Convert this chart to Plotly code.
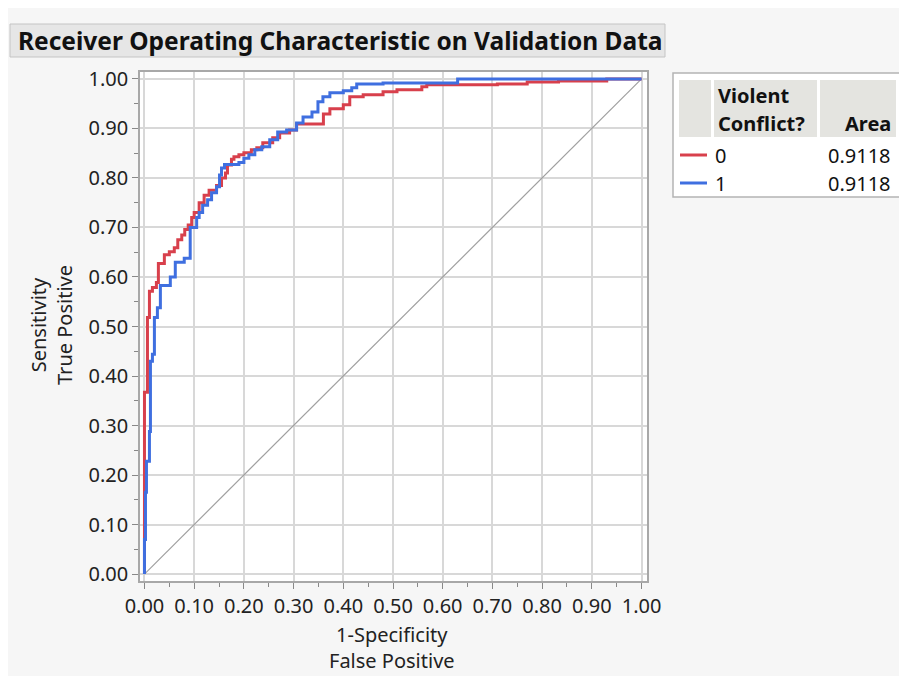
import plotly.graph_objects as go

# ROC step corners (x = 1-specificity, y = sensitivity)
red_fpr = [0.0, 0.0, 0.006, 0.010, 0.016, 0.024, 0.028, 0.040, 0.050, 0.060, 0.067, 0.075,
           0.081, 0.088, 0.095, 0.100, 0.110, 0.120, 0.130, 0.145, 0.155, 0.163, 0.167,
           0.175, 0.180, 0.190, 0.200, 0.215, 0.226, 0.238, 0.258, 0.272, 0.292, 0.306,
           0.360, 0.373, 0.400, 0.413, 0.440, 0.480, 0.508, 0.558, 0.568, 0.710, 0.770,
           0.833, 0.930, 1.0]
red_tpr = [0.0, 0.367, 0.518, 0.571, 0.579, 0.589, 0.627, 0.645, 0.651, 0.659, 0.675, 0.685,
           0.696, 0.705, 0.720, 0.730, 0.750, 0.765, 0.775, 0.785, 0.800, 0.810, 0.826,
           0.838, 0.843, 0.847, 0.851, 0.857, 0.861, 0.871, 0.881, 0.891, 0.897, 0.909,
           0.929, 0.940, 0.948, 0.964, 0.968, 0.974, 0.978, 0.984, 0.988, 0.990, 0.994,
           0.996, 1.0, 1.0]

blue_fpr = [0.0, 0.0, 0.002, 0.004, 0.010, 0.012, 0.016, 0.020, 0.026, 0.032, 0.052, 0.062,
            0.080, 0.092, 0.105, 0.110, 0.117, 0.127, 0.135, 0.145, 0.151, 0.155, 0.161,
            0.190, 0.200, 0.210, 0.222, 0.236, 0.252, 0.268, 0.286, 0.306, 0.319, 0.337,
            0.349, 0.359, 0.373, 0.400, 0.417, 0.427, 0.480, 0.630, 1.0]
blue_tpr = [0.0, 0.070, 0.165, 0.228, 0.288, 0.430, 0.444, 0.518, 0.538, 0.583, 0.600, 0.630,
            0.638, 0.700, 0.720, 0.730, 0.745, 0.756, 0.770, 0.782, 0.806, 0.820, 0.827,
            0.831, 0.840, 0.847, 0.857, 0.863, 0.877, 0.893, 0.897, 0.911, 0.923, 0.933,
            0.954, 0.964, 0.972, 0.976, 0.982, 0.990, 0.992, 1.0, 1.0]

diag = [0, 1]
groups = ["0", "1"]
areas = ["0.9118", "0.9118"]
colors = ["#d8404c", "#3f6fe0"]

FONT = "Noto Sans"
W, H = 907, 676
OFF = 8  # the page puts the figure 8px in from the top-left corner
L, R, T, B = 140 - OFF, W - 647 + OFF, 72 - OFF, H - 581 + OFF


def px(x):
    return (x - OFF - L) / (W - L - R)


def py(y):
    return (H - B - (y - OFF)) / (H - T - B)


fig = go.Figure()
fig.add_trace(go.Scatter(x=diag, y=diag, mode="lines",
                         line=dict(color="#a0a0a0", width=1.2), hoverinfo="skip"))
for fpr, tpr, c in [(red_fpr, red_tpr, colors[0]), (blue_fpr, blue_tpr, colors[1])]:
    fig.add_trace(go.Scatter(x=fpr, y=tpr, mode="lines", line_shape="hv",
                             line=dict(color=c, width=3)))

axis_common = dict(
    tickformat=".2f", dtick=0.1, tick0=0,
    showgrid=True, gridcolor="#d8d8d8", gridwidth=1.5,
    showline=True, linecolor="#a8a8a8", linewidth=1.5, mirror=True,
    ticks="outside", ticklen=6, tickcolor="#888888",
    minor=dict(dtick=0.05, ticks="outside", ticklen=4, tickcolor="#888888", showgrid=False),
    tickfont=dict(family=FONT, size=20, color="#222222"),
    zeroline=False,
)
fig.update_xaxes(range=[-0.009, 1.011], **axis_common)
fig.update_yaxes(range=[-0.014, 1.014], **axis_common)

shapes = [
    # title bar
    dict(type="rect", xref="paper", yref="paper", x0=px(10), x1=px(665), y0=py(24), y1=py(57),
         fillcolor="#e6e6e6", line=dict(color="#c4c4c4", width=1), layer="below"),
    # legend table box
    dict(type="rect", xref="paper", yref="paper", x0=px(673), x1=px(900), y0=py(73), y1=py(197),
         fillcolor="white", line=dict(color="#b4b4b4", width=1.5), layer="below"),
]
for x0, x1 in [(679, 711), (714, 817), (820, 896)]:
    shapes.append(dict(type="rect", xref="paper", yref="paper", x0=px(x0), x1=px(x1),
                       y0=py(80), y1=py(137), fillcolor="#e4e4e0", line=dict(width=0),
                       layer="below"))
for yy, c in zip([155, 183], colors):
    shapes.append(dict(type="line", xref="paper", yref="paper", x0=px(680), x1=px(707),
                       y0=py(yy), y1=py(yy), line=dict(color=c, width=3)))

ann = [
    dict(text="<b>Receiver Operating Characteristic on Validation Data</b>", x=px(16), y=py(40),
         xanchor="left", yanchor="middle", font=dict(size=24.5, color="#111111")),
    dict(text="1-Specificity<br>False Positive", x=px(392), y=py(647), xanchor="center",
         yanchor="middle", font=dict(size=20, color="#222222")),
    dict(text="Sensitivity<br>True Positive", x=px(51), y=py(325), xanchor="center",
         yanchor="middle", textangle=-90, font=dict(size=20, color="#222222")),
    dict(text="<b>Violent</b>", x=px(716), y=py(96), xanchor="left", yanchor="middle"),
    dict(text="<b>Conflict?</b>", x=px(716), y=py(124), xanchor="left", yanchor="middle"),
    dict(text="<b>Area</b>", x=px(893), y=py(124), xanchor="right", yanchor="middle"),
]
for yy, g, a in zip([155, 183], groups, areas):
    ann.append(dict(text=g, x=px(713), y=py(yy), xanchor="left", yanchor="middle"))
    ann.append(dict(text=a, x=px(893), y=py(yy), xanchor="right", yanchor="middle"))
for a in ann:
    a.update(xref="paper", yref="paper", showarrow=False)
    a.setdefault("font", dict(size=20, color="#111111"))
    a["font"].setdefault("family", FONT)

fig.update_layout(
    width=W, height=H, autosize=False,
    margin=dict(l=L, r=R, t=T, b=B),
    paper_bgcolor="#f6f6f6", plot_bgcolor="white",
    showlegend=False,
    shapes=shapes, annotations=ann,
    font=dict(family=FONT),
)

fig.write_html("out.html")
